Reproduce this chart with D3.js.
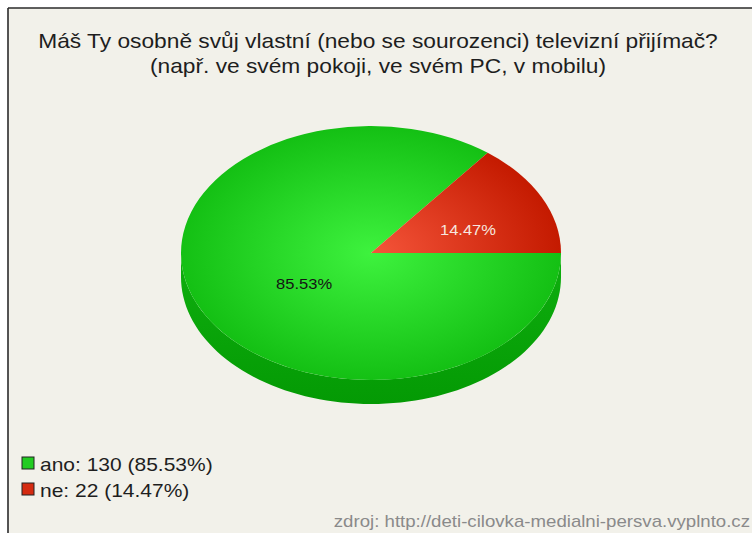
<!DOCTYPE html>
<html>
<head>
<meta charset="utf-8">
<script src="https://cdn.jsdelivr.net/npm/d3@7"></script>
<style>
  html, body { margin: 0; padding: 0; background: #ffffff; }
  svg { display: block; }
</style>
</head>
<body>
<svg id="chart" width="752" height="533"></svg>
<script>
// Survey answers: "Do you own your own TV receiver?"
const categories = ["ano", "ne"];
const counts = [130, 22];
const percents = ["85.53%", "14.47%"];
const titleLines = [
  "Máš Ty osobně svůj vlastní (nebo se sourozenci) televizní přijímač?",
  "(např. ve svém pokoji, ve svém PC, v mobilu)"
];
const sourceText = "zdroj: http://deti-cilovka-medialni-persva.vyplnto.cz";

const W = 752, H = 533;
const svg = d3.select("#chart");
const font = "'Liberation Sans', Arial, sans-serif";
// text is drawn slightly widened horizontally
const place = (x, y, s = 1.18) => `translate(${x},${y}) scale(${s},1)`;

// panel with dark frame on the top and left
svg.append("rect").attr("x", 0).attr("y", 0).attr("width", W).attr("height", H).attr("fill", "#ffffff");
svg.append("rect").attr("x", 8).attr("y", 8).attr("width", W - 8).attr("height", H - 8).attr("fill", "#f2f1ea");
svg.append("line").attr("x1", 8).attr("y1", 8).attr("x2", W).attr("y2", 8).attr("stroke", "#2a2a2a").attr("stroke-width", 1.6);
svg.append("line").attr("x1", 8).attr("y1", 8).attr("x2", 8).attr("y2", H).attr("stroke", "#2a2a2a").attr("stroke-width", 1.6);

// title
svg.append("g").selectAll("text").data(titleLines).join("text")
  .attr("transform", (d, i) => place(378, 48 + i * 25, 1.11))
  .attr("text-anchor", "middle")
  .attr("font-family", font).attr("font-size", 20.5)
  .attr("fill", "#1e1e1e")
  .text(d => d);

// pie geometry
const cx = 371, cy = 253, rx = 190, ry = 127, depth = 24;
const squash = ry / rx;

const defs = svg.append("defs");
const grads = [
  { id: "g-ano", c0: "#3ef23e", c1: "#14c014" },
  { id: "g-ne", c0: "#f5553a", c1: "#c41a00" }
];
grads.forEach(g => {
  const rg = defs.append("radialGradient").attr("id", g.id)
    .attr("gradientUnits", "userSpaceOnUse")
    .attr("cx", 0).attr("cy", 0).attr("r", rx);
  rg.append("stop").attr("offset", "0%").attr("stop-color", g.c0);
  rg.append("stop").attr("offset", "100%").attr("stop-color", g.c1);
});
const sideGrad = defs.append("linearGradient").attr("id", "g-side")
  .attr("x1", "0").attr("x2", "0").attr("y1", "0").attr("y2", "1");
sideGrad.append("stop").attr("offset", "0%").attr("stop-color", "#0faf0f");
sideGrad.append("stop").attr("offset", "100%").attr("stop-color", "#049a04");

// side wall of the disc (front half only is visible, all of it green)
const sideN = 80;
const sidePts = [];
for (let i = 0; i <= sideN; i++) {
  const t = Math.PI * i / sideN;
  sidePts.push([cx + rx * Math.cos(t), cy + ry * Math.sin(t)]);
}
for (let i = sideN; i >= 0; i--) {
  const t = Math.PI * i / sideN;
  sidePts.push([cx + rx * Math.cos(t), cy + depth + ry * Math.sin(t)]);
}
svg.append("path")
  .attr("d", d3.line()(sidePts) + "Z")
  .attr("fill", "url(#g-side)");

// top face
const pie = d3.pie().sort(null).value(d => d)
  .startAngle(Math.PI / 2).endAngle(Math.PI / 2 + 2 * Math.PI);
const arcs = pie(counts);
const arc = d3.arc().innerRadius(0).outerRadius(rx);

const face = svg.append("g").attr("transform", `translate(${cx},${cy}) scale(1,${squash})`);
face.selectAll("path").data(arcs).join("path")
  .attr("d", arc)
  .attr("fill", (d, i) => `url(#${grads[i].id})`);

// slice labels
const labelArc = d3.arc().innerRadius(0).outerRadius(rx * 0.96);
const labelColors = ["#141414", "#f6e6df"];
svg.append("g").selectAll("text").data(arcs).join("text")
  .attr("transform", d => place(cx + labelArc.centroid(d)[0] + 15, cy + labelArc.centroid(d)[1] * squash + 9))
  .attr("text-anchor", "middle")
  .attr("font-family", font).attr("font-size", 14)
  .attr("fill", (d, i) => labelColors[i])
  .text((d, i) => percents[i]);

// legend
const legendColors = ["#22cc22", "#d42a10"];
const leg = svg.append("g").selectAll("g").data(categories).join("g")
  .attr("transform", (d, i) => `translate(22,${457 + i * 26})`);
leg.append("rect").attr("width", 12).attr("height", 12)
  .attr("fill", (d, i) => legendColors[i])
  .attr("stroke", "#222").attr("stroke-width", 1);
leg.append("text").attr("transform", place(18, 14))
  .attr("font-family", font).attr("font-size", 17.8)
  .attr("fill", "#1e1e1e")
  .text((d, i) => `${d}: ${counts[i]} (${percents[i]})`);

// source note
svg.append("text").attr("transform", place(750, 527))
  .attr("text-anchor", "end")
  .attr("font-family", font).attr("font-size", 15.8)
  .attr("fill", "#8a8a8a")
  .text(sourceText);
</script>
</body>
</html>
